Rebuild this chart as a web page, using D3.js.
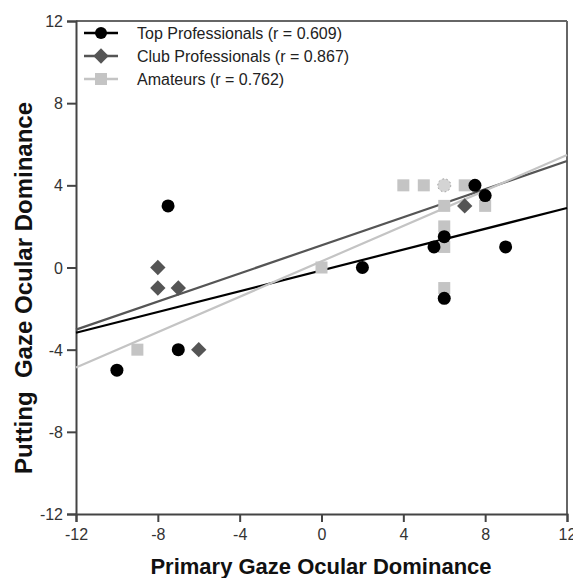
<!DOCTYPE html>
<html><head><meta charset="utf-8">
<script src="https://cdn.jsdelivr.net/npm/d3@7"></script>
<style>body{margin:0;background:#fff}svg{display:block}text{font-family:"Liberation Sans",Arial,sans-serif}</style>
</head><body>
<svg id="c" width="573" height="578"></svg>
<script>
// ---- data ----
const xTicks = [-12, -8, -4, 0, 4, 8, 12];
const yTicks = [-12, -8, -4, 0, 4, 8, 12];
const seriesNames = ["Top Professionals (r = 0.609)", "Club Professionals (r = 0.867)", "Amateurs (r = 0.762)"];
const topPros = [[-10,-5],[-7.5,3],[-7,-4],[2,0],[5.5,1],[6,1.5],[6,-1.5],[7.5,4],[8,3.5],[9,1]];
const clubPros = [[-8,0],[-8,-1],[-7,-1],[-6,-4],[7,3]];
const amateurs = [[-9,-4],[0,0],[4,4],[5,4],[7,4],[6,3],[8,3],[6,2],[6,1],[6,-1]];
const overlapPoints = [[6,4]];
// regression fits: [slope, intercept]
const fits = [[0.253,-0.14],[0.342,1.08],[0.431,0.30]];
const colors = ["#000000","#555555","#c4c4c4"];

const svg = d3.select("#c");
const m = {l:76, r:6, t:21, b:64};
const W = 573, H = 578;
const x = d3.scaleLinear().domain([-12,12]).range([m.l, W-m.r]);
const y = d3.scaleLinear().domain([-12,12]).range([H-m.b, m.t]);

// frame top/right
svg.append("line").attr("x1",x(-12)).attr("x2",x(12)).attr("y1",y(12)).attr("y2",y(12)).attr("stroke","#666").attr("stroke-width",2);
svg.append("line").attr("x1",x(12)).attr("x2",x(12)).attr("y1",y(12)).attr("y2",y(-12)).attr("stroke","#666").attr("stroke-width",2);

// axes
const fmt = d => String(d);
const xa = svg.append("g").attr("transform",`translate(0,${y(-12)})`)
  .call(d3.axisBottom(x).tickValues(xTicks).tickSize(8).tickPadding(5).tickFormat(fmt));
const ya = svg.append("g").attr("transform",`translate(${x(-12)},0)`)
  .call(d3.axisLeft(y).tickValues(yTicks).tickSize(9).tickPadding(4).tickFormat(fmt));
[xa,ya].forEach(a=>{
  a.select(".domain").attr("stroke","#444").attr("stroke-width",2);
  a.selectAll(".tick line").attr("stroke","#444").attr("stroke-width",2);
  a.selectAll(".tick text").attr("fill","#333").style("font-size","16px");
});
ya.selectAll(".tick text").attr("dy","0.35em");
xa.selectAll(".tick text").attr("dy","0.8em");

// regression lines
const lines = svg.append("g");
fits.forEach((f,i)=>{
  lines.append("line")
    .attr("x1",x(-12)).attr("y1",y(f[0]*-12+f[1]))
    .attr("x2",x(12)).attr("y2",y(f[0]*12+f[1]))
    .attr("stroke",colors[i]).attr("stroke-width",2.2);
});

// markers
const sqSize = 12;
svg.append("g").selectAll("rect").data(amateurs).join("rect")
  .attr("x",d=>x(d[0])-sqSize/2).attr("y",d=>y(d[1])-sqSize/2)
  .attr("width",sqSize).attr("height",sqSize).attr("fill",colors[2]);
svg.append("g").selectAll("circle").data(overlapPoints).join("circle")
  .attr("cx",d=>x(d[0])).attr("cy",d=>y(d[1])).attr("r",6.5)
  .attr("fill","#d4d4d4").attr("stroke","#9a9a9a").attr("stroke-width",1).attr("stroke-dasharray","1.5,2.5");
const diamond = d3.symbol().type(d3.symbolDiamond2).size(150);
svg.append("g").selectAll("path").data(clubPros).join("path")
  .attr("transform",d=>`translate(${x(d[0])},${y(d[1])})`)
  .attr("d",diamond).attr("fill",colors[1]);
svg.append("g").selectAll("circle").data(topPros).join("circle")
  .attr("cx",d=>x(d[0])).attr("cy",d=>y(d[1])).attr("r",6.5).attr("fill",colors[0]);

// legend
const lg = svg.append("g");
const rows = [33, 56, 79];
seriesNames.forEach((n,i)=>{
  const g = lg.append("g").attr("transform",`translate(0,${rows[i]})`);
  g.append("line").attr("x1",84).attr("x2",118).attr("stroke",colors[i]).attr("stroke-width",2.5);
  if(i===0) g.append("circle").attr("cx",101).attr("r",6).attr("fill",colors[0]);
  if(i===1) g.append("path").attr("transform","translate(101,0)").attr("d",diamond).attr("fill",colors[1]);
  if(i===2) g.append("rect").attr("x",95).attr("y",-6).attr("width",12).attr("height",12).attr("fill",colors[2]);
  g.append("text").attr("x",137).attr("dy","0.35em").attr("fill","#222").style("font-size","16px").text(n);
});

// axis titles
svg.append("text").attr("x",321).attr("y",574).attr("text-anchor","middle")
  .style("font-size","22px").style("font-weight","bold").attr("fill","#111")
  .text("Primary Gaze Ocular Dominance");
svg.append("text").attr("transform","translate(32,288) rotate(-90)").attr("text-anchor","middle")
  .style("font-size","24px").style("font-weight","bold").attr("fill","#111")
  .style("white-space","pre")
  .text("Putting  Gaze Ocular Dominance");
</script>
</body></html>
